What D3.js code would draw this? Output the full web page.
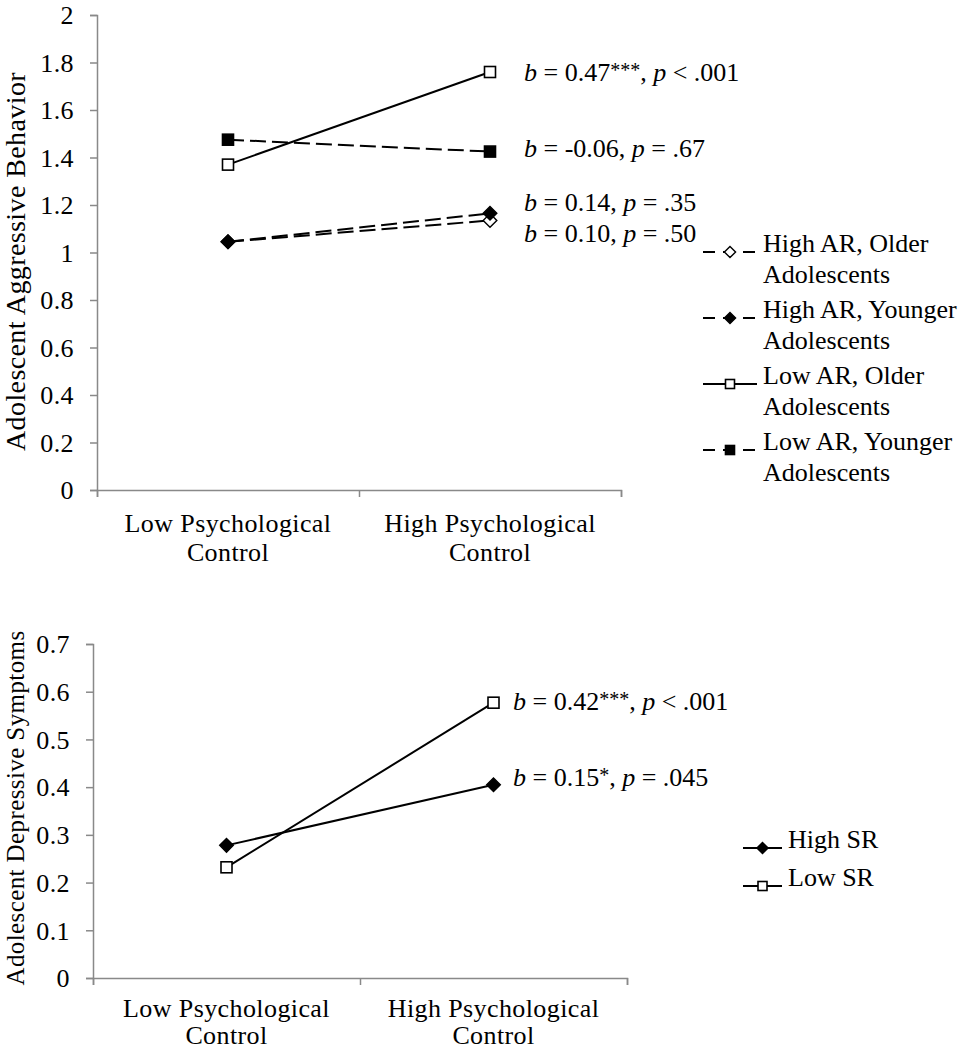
<!DOCTYPE html>
<html>
<head>
<meta charset="utf-8">
<script src="https://cdn.jsdelivr.net/npm/d3@7"></script>
<style>
  body { margin: 0; background: #fff; }
  svg { display: block; font-family: "Liberation Serif", "Times New Roman", serif; letter-spacing: 0.4px; }
</style>
</head>
<body>
<div id="chart"></div>
<script>
// categories on the x axis (two lines each)
const categories = [['Low Psychological', 'Control'], ['High Psychological', 'Control']];

// top panel: aggressive behavior
const topTicks = [0, 0.2, 0.4, 0.6, 0.8, 1, 1.2, 1.4, 1.6, 1.8, 2];
const topSeriesNames = [
  ['High AR, Older', 'Adolescents'],
  ['High AR, Younger', 'Adolescents'],
  ['Low AR, Older', 'Adolescents'],
  ['Low AR, Younger', 'Adolescents']
];
const highAROlder = [1.045, 1.135];
const highARYounger = [1.045, 1.165];
const lowAROlder = [1.37, 1.76];
const lowARYounger = [1.475, 1.425];
const topValues = [highAROlder, highARYounger, lowAROlder, lowARYounger];
const topNotes = [
  { b: '0.47', stars: '***', p: '< .001', at: 1.76 },
  { b: '-0.06', stars: '', p: '= .67', at: 1.44 },
  { b: '0.14', stars: '', p: '= .35', at: 1.21 },
  { b: '0.10', stars: '', p: '= .50', at: 1.08 }
];

// bottom panel: depressive symptoms
const bottomTicks = [0, 0.1, 0.2, 0.3, 0.4, 0.5, 0.6, 0.7];
const bottomSeriesNames = [['High SR'], ['Low SR']];
const highSR = [0.278, 0.405];
const lowSR = [0.232, 0.577];
const bottomValues = [highSR, lowSR];
const bottomNotes = [
  { b: '0.42', stars: '***', p: '< .001', at: 0.58 },
  { b: '0.15', stars: '*', p: '= .045', at: 0.42 }
];

// marker styles
const topStyle = [
  { shape: 'diamond', fill: '#fff', dash: '16,6' },
  { shape: 'diamond', fill: '#000', dash: '16,6' },
  { shape: 'square', fill: '#fff', dash: null },
  { shape: 'square', fill: '#000', dash: '16,6' }
];
const bottomStyle = [
  { shape: 'diamond', fill: '#000', dash: null },
  { shape: 'square', fill: '#fff', dash: null }
];

const width = 971, height = 1050;
const fontSize = 26;
const axisColor = '#898989';

const svg = d3.select('#chart').append('svg')
  .attr('width', width).attr('height', height);

function marker(g, style, cx, cy, size) {
  if (style.shape === 'square') {
    g.append('rect')
      .attr('x', cx - size / 2).attr('y', cy - size / 2)
      .attr('width', size).attr('height', size)
      .attr('fill', style.fill).attr('stroke', '#000').attr('stroke-width', 1.6);
  } else {
    const r = size * 0.62;
    g.append('path')
      .attr('d', `M${cx},${cy - r}L${cx + r},${cy}L${cx},${cy + r}L${cx - r},${cy}Z`)
      .attr('fill', style.fill).attr('stroke', '#000').attr('stroke-width', 1.4);
  }
}

function panel(opt) {
  const g = svg.append('g');
  const y = d3.scaleLinear().domain(opt.domain).range([opt.bottom, opt.top]);
  const x = d3.scaleBand().domain([0, 1]).range([opt.left, opt.right]);
  const xEdge = d3.scaleLinear().domain([0, 2]).range([opt.left, opt.right]);

  // y axis
  const yAxis = g.append('g')
    .attr('transform', `translate(${opt.left},0)`)
    .call(d3.axisLeft(y).tickValues(opt.ticks).tickSize(7).tickPadding(16)
      .tickFormat(d => String(+d.toFixed(1))));
  yAxis.select('.domain').attr('stroke', axisColor).attr('stroke-width', 1.5);
  yAxis.selectAll('.tick line').attr('stroke', axisColor).attr('stroke-width', 1.5);
  yAxis.selectAll('.tick text')
    .attr('font-family', '"Liberation Serif", serif')
    .attr('font-size', fontSize)
    .attr('fill', '#000').attr('dy', '0.34em');

  // x axis with boundary ticks
  const xAxis = g.append('g')
    .attr('transform', `translate(0,${opt.bottom})`)
    .call(d3.axisBottom(xEdge).tickValues([0, 1, 2]).tickSize(7).tickFormat(''));
  xAxis.select('.domain').attr('stroke', axisColor).attr('stroke-width', 1.5);
  xAxis.selectAll('.tick line').attr('stroke', axisColor).attr('stroke-width', 1.5);

  // category labels
  categories.forEach((lines, i) => {
    const t = g.append('text')
      .attr('x', x(i) + x.bandwidth() / 2)
      .attr('y', opt.bottom + opt.catOffset)
      .attr('text-anchor', 'middle')
      .attr('font-size', fontSize);
    lines.forEach((s, j) => t.append('tspan')
      .attr('x', x(i) + x.bandwidth() / 2).attr('dy', j ? opt.catLine : 0).text(s));
  });

  // y title
  g.append('text')
    .attr('transform', `translate(${opt.titleX},${(opt.top + opt.bottom) / 2 + opt.titleShift}) rotate(-90)`)
    .attr('text-anchor', 'middle')
    .attr('font-size', opt.titleSize)
    .text(opt.title);

  const cx = i => x(i) + x.bandwidth() / 2;
  const line = d3.line().x((d, i) => cx(i)).y(d => y(d));

  opt.values.forEach((vals, k) => {
    const st = opt.styles[k];
    g.append('path')
      .datum(vals)
      .attr('fill', 'none')
      .attr('stroke', '#000')
      .attr('stroke-width', 2)
      .attr('stroke-dasharray', st.dash)
      .attr('d', line);
  });
  opt.values.forEach((vals, k) => {
    vals.forEach((v, i) => marker(g, opt.styles[k], cx(i), y(v), 11));
  });

  // slope annotations
  opt.notes.forEach(n => {
    const t = g.append('text')
      .attr('x', opt.noteX)
      .attr('y', y(n.at))
      .attr('dy', '0.34em')
      .attr('font-size', fontSize)
      .attr('letter-spacing', 0);
    t.append('tspan').attr('font-style', 'italic').text('b');
    t.append('tspan').text(' = ' + n.b);
    if (n.stars) t.append('tspan').attr('font-size', 20).attr('dy', -4).text(n.stars);
    t.append('tspan').attr('dy', n.stars ? 4 : 0).text(', ');
    t.append('tspan').attr('font-style', 'italic').text('p');
    t.append('tspan').text(' ' + n.p);
  });

  // legend
  opt.names.forEach((lines, k) => {
    const st = opt.styles[k];
    const ly = opt.legendY + k * opt.legendStep;
    g.append('line')
      .attr('x1', opt.legendX).attr('x2', opt.legendX + opt.legendLen)
      .attr('y1', ly).attr('y2', ly)
      .attr('stroke', '#000').attr('stroke-width', 2)
      .attr('stroke-dasharray', st.dash ? '12,8' : null);
    marker(g, st, opt.legendX + opt.legendLen / 2, ly, 9);
    const t = g.append('text')
      .attr('x', opt.legendX + opt.legendLen + 6)
      .attr('y', ly).attr('dy', '0.34em')
      .attr('font-size', fontSize)
      .attr('letter-spacing', 0);
    lines.forEach((s, j) => t.append('tspan')
      .attr('x', opt.legendX + opt.legendLen + 6).attr('dy', j ? 31 : 0).text(s));
  });
}

panel({
  domain: [0, 2], ticks: topTicks, top: 15, bottom: 490, left: 97, right: 621,
  title: 'Adolescent Aggressive Behavior', titleX: 25, titleShift: 9, titleSize: 28,
  catOffset: 42, catLine: 29,
  values: topValues, styles: topStyle, names: topSeriesNames, notes: topNotes,
  noteX: 524, legendX: 703, legendLen: 54, legendY: 252, legendStep: 66
});

panel({
  domain: [0, 0.7], ticks: bottomTicks, top: 644, bottom: 978, left: 93, right: 627,
  title: 'Adolescent Depressive Symptoms', titleX: 24, titleShift: -3, titleSize: 25,
  catOffset: 39, catLine: 27,
  values: bottomValues, styles: bottomStyle, names: bottomSeriesNames, notes: bottomNotes,
  noteX: 513, legendX: 743, legendLen: 39, legendY: 848, legendStep: 38
});
</script>
</body>
</html>
